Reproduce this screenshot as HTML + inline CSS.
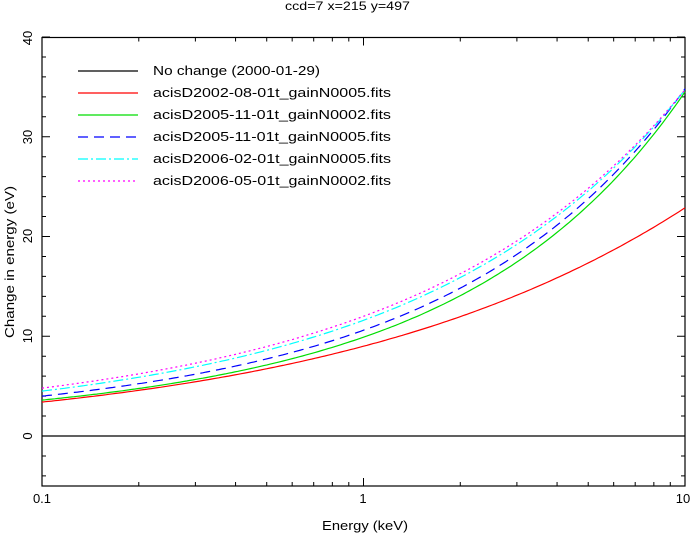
<!DOCTYPE html>
<html><head><style>
html,body{margin:0;padding:0;background:#fff;}
svg{display:block;font-family:"Liberation Sans",sans-serif;}
</style></head><body>
<svg id="s" width="694" height="535" viewBox="0 0 694 535" xmlns="http://www.w3.org/2000/svg">
<rect width="694" height="535" fill="#fff"/>
<text x="285" y="10" font-size="12" textLength="125" lengthAdjust="spacingAndGlyphs">ccd=7 x=215 y=497</text>
<g id="ticks" stroke="#000" stroke-width="1"></g>
<rect x="42" y="37.5" width="643" height="448.5" fill="none" stroke="#000" stroke-width="1.2"/>
<line x1="42" y1="436" x2="685" y2="436" stroke="#000" stroke-width="1.2"/>
<g id="curves" fill="none" stroke-width="1.2"></g>
<g font-size="13" text-anchor="middle">
<text x="42" y="503">0.1</text>
<text x="363" y="503">1</text>
<text x="683" y="503">10</text>
<text x="322" y="530" text-anchor="start" textLength="86" lengthAdjust="spacingAndGlyphs">Energy (keV)</text>
<text transform="translate(32,436) rotate(-90)">0</text>
<text transform="translate(32,336) rotate(-90)">10</text>
<text transform="translate(32,236) rotate(-90)">20</text>
<text transform="translate(32,137) rotate(-90)">30</text>
<text transform="translate(32,38) rotate(-90)">40</text>
<text transform="translate(14,338) rotate(-90)" text-anchor="start" textLength="152" lengthAdjust="spacingAndGlyphs">Change in energy (eV)</text>
</g>
<g stroke-width="1.2">
<line x1="78" y1="71" x2="138" y2="71" stroke="#000"/>
<line x1="78" y1="93" x2="138" y2="93" stroke="#f00"/>
<line x1="78" y1="115" x2="138" y2="115" stroke="#0d0"/>
<line x1="78" y1="137" x2="138" y2="137" stroke="#00f" stroke-dasharray="10,6"/>
<line x1="78" y1="159" x2="138" y2="159" stroke="#0ff" stroke-dasharray="10,3,2,3"/>
<line x1="78" y1="181" x2="138" y2="181" stroke="#f0f" stroke-dasharray="2,3"/>
</g>
<g font-size="13" lengthAdjust="spacingAndGlyphs">
<text x="153" y="75" textLength="167" lengthAdjust="spacingAndGlyphs">No change (2000-01-29)</text>
<text x="153" y="97" textLength="238" lengthAdjust="spacingAndGlyphs">acisD2002-08-01t_gainN0005.fits</text>
<text x="153" y="119" textLength="238" lengthAdjust="spacingAndGlyphs">acisD2005-11-01t_gainN0002.fits</text>
<text x="153" y="141" textLength="238" lengthAdjust="spacingAndGlyphs">acisD2005-11-01t_gainN0005.fits</text>
<text x="153" y="163" textLength="238" lengthAdjust="spacingAndGlyphs">acisD2006-02-01t_gainN0005.fits</text>
<text x="153" y="185" textLength="238" lengthAdjust="spacingAndGlyphs">acisD2006-05-01t_gainN0002.fits</text>
</g>
</svg>
<script>
var NS="http://www.w3.org/2000/svg";
function X(t){return 42+t*321.5;}
function Y(v){return 436-v*9.975;}
var tk=document.getElementById("ticks"),s="";
for(var d=0;d<2;d++)for(var k=1;k<=10;k++){var t=d+Math.log10(k);var x=X(t);var L=(k==1||k==10)?8:4;s+="M"+x+" 486v-"+L+"M"+x+" 37.5v"+L;}
for(var v=-4;v<=40;v+=2){var y=Y(v);var L=(v%10==0)?8:4;s+="M42 "+y+"h"+L+"M685 "+y+"h-"+L;}
var p=document.createElementNS(NS,"path");p.setAttribute("d",s);tk.appendChild(p);
var cs=[["#f00",1.224,0.993,-0.02,""],["#0d0",1.281,0.894,0.118,""],["#00f",1.386,0.868,0.107,"10,6"],["#0ff",1.504,0.8725,0.0745,"10,3,2,3"],["#f0f",1.569,0.843,0.073,"2,3"]];
var g=document.getElementById("curves");
cs.forEach(function(c){var d="";for(var i=0;i<=200;i++){var t=i/100;var v=Math.exp(c[1]+c[2]*t+c[3]*t*t);d+=(i?"L":"M")+X(t).toFixed(1)+" "+Y(v).toFixed(1);}
var q=document.createElementNS(NS,"path");q.setAttribute("d",d);q.setAttribute("stroke",c[0]);if(c[4])q.setAttribute("stroke-dasharray",c[4]);g.appendChild(q);});
</script>
</body></html>
